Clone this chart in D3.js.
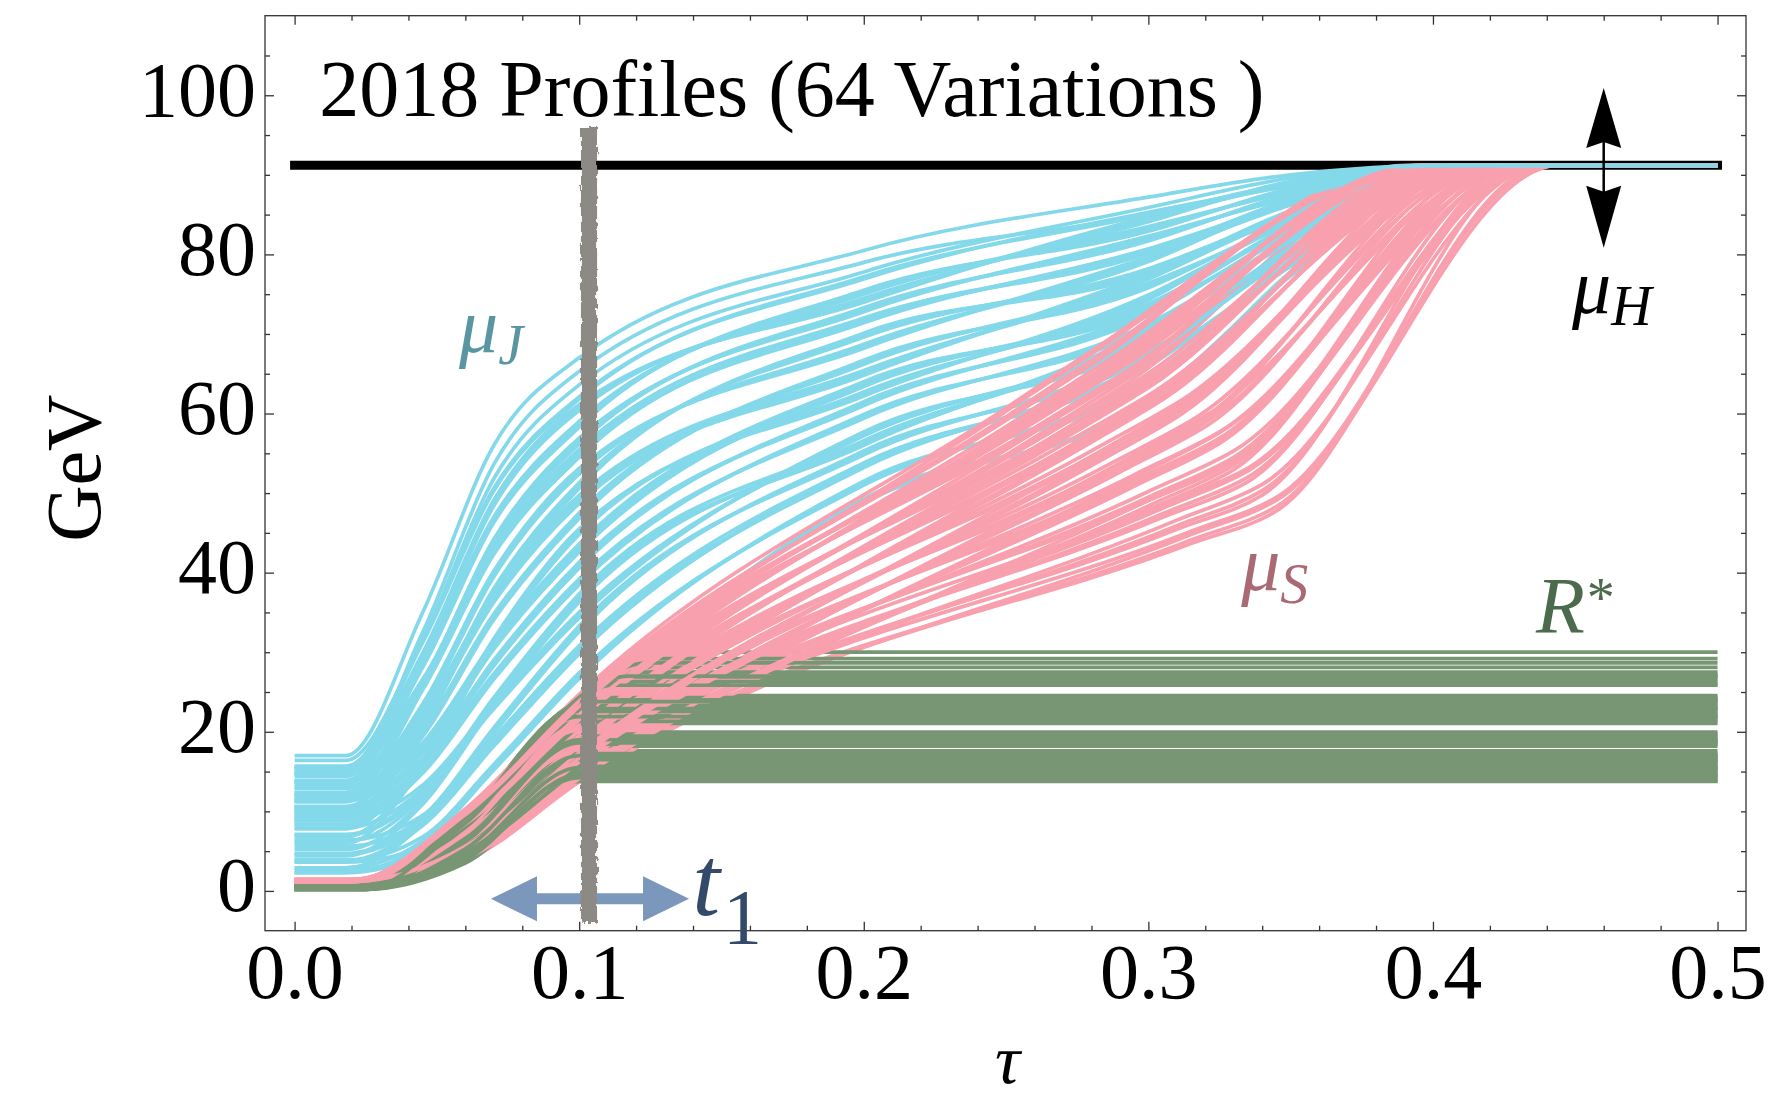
<!DOCTYPE html>
<html>
<head>
<meta charset="utf-8">
<script src="https://cdn.jsdelivr.net/npm/d3@7"></script>
<style>
  html, body { margin: 0; padding: 0; background: #fff; }
  svg { display: block; }
  text { font-family: "Liberation Serif", "Times New Roman", Times, serif; }
</style>
</head>
<body>
<svg id="chart" width="1777" height="1099"></svg>
<script>
// ------------------------------------------------------------------
// Data: 2018 thrust profile functions, 64 parameter variations
// ------------------------------------------------------------------
const MU_H = 91.19;                       // hard scale (GeV)
const X_TICKS = [0, 0.1, 0.2, 0.3, 0.4, 0.5];
const X_MINOR = [0.02, 0.04, 0.06, 0.08, 0.12, 0.14, 0.16, 0.18, 0.22, 0.24, 0.26, 0.28,
                 0.32, 0.34, 0.36, 0.38, 0.42, 0.44, 0.46, 0.48];
const Y_TICKS = [0, 20, 40, 60, 80, 100];
const Y_MINOR = [5, 10, 15, 25, 30, 35, 45, 50, 55, 65, 70, 75, 85, 90, 95, 105];

// t1 transition-point variations (vertical band) and its vertical extent in GeV
const T1_VALUES = [0.1014, 0.1019, 0.1024, 0.1029, 0.1033, 0.1037, 0.1041, 0.1045, 0.1050, 0.1055];
const T1_SPAN = [-4, 96];

// μJ: GeV at τ = 0.018 (flat from τ = 0), 0.045, 0.07, 0.1, 0.2, 0.3, 0.35; joins μH at τ = 0.405
const MUJ_TAU = [0.018, 0.045, 0.07, 0.1, 0.2, 0.3, 0.35];
const MUJ_MERGE = 0.405;
const MUJ_ROWS = [
  [2.6, 5.1, 12.9, 23.2, 49.0, 61.4, 77.5], [3.6, 5.6, 13.3, 23.6, 48.8, 61.7, 77.3], [2.3, 4.7, 12.6, 22.9, 49.3, 61.1, 77.8],
  [2.9, 6.3, 15.5, 27.0, 51.2, 64.2, 79.0], [3.9, 6.8, 15.9, 27.4, 51.0, 64.5, 78.8], [2.3, 5.9, 15.2, 26.7, 51.5, 63.9, 79.3],
  [4.6, 8.6, 18.5, 30.1, 53.4, 66.2, 78.7], [5.6, 9.1, 18.9, 30.5, 53.2, 66.5, 78.5], [3.8, 8.2, 18.2, 29.8, 53.7, 65.9, 79.0],
  [6.4, 9.5, 19.2, 30.8, 53.8, 66.0, 78.7],
  [3.7, 8.8, 20.1, 32.9, 55.0, 67.4, 80.0], [4.7, 9.3, 20.5, 33.3, 54.8, 67.7, 79.8], [2.9, 8.4, 19.8, 32.6, 55.3, 67.1, 80.3],
  [7.9, 12.8, 23.2, 34.6, 57.4, 69.0, 80.6], [8.9, 13.3, 23.6, 35.0, 57.2, 69.3, 80.4], [7.1, 12.4, 22.9, 34.3, 57.7, 68.7, 80.9],
  [5.2, 11.3, 23.6, 36.6, 56.2, 70.2, 81.8], [6.2, 11.8, 24.0, 37.0, 56.0, 70.5, 81.6], [4.4, 10.9, 23.3, 36.3, 56.5, 69.9, 82.1],
  [7.0, 12.2, 24.3, 37.3, 56.6, 70.0, 81.8],
  [9.1, 15.2, 26.9, 38.8, 59.6, 71.0, 81.8], [10.1, 15.7, 27.3, 39.2, 59.4, 71.3, 81.6], [8.3, 14.8, 26.6, 38.5, 59.9, 70.7, 82.1],
  [9.2, 16.1, 28.6, 40.9, 61.2, 72.6, 82.6], [10.2, 16.6, 29.0, 41.3, 61.0, 72.9, 82.4], [8.4, 15.7, 28.3, 40.6, 61.5, 72.3, 82.9],
  [10.3, 17.7, 30.7, 42.9, 63.6, 73.5, 83.4], [11.3, 18.2, 31.1, 43.3, 63.4, 73.8, 83.2], [9.5, 17.3, 30.4, 42.6, 63.9, 73.2, 83.7],
  [12.1, 18.6, 31.4, 43.6, 64.0, 73.3, 83.4],
  [6.8, 16.0, 31.3, 45.1, 62.4, 74.6, 84.2], [7.8, 16.5, 31.7, 45.5, 62.2, 74.9, 84.0], [6.0, 15.6, 31.0, 44.8, 62.7, 74.3, 84.5],
  [10.6, 19.8, 34.4, 47.1, 66.4, 76.1, 84.0], [11.6, 20.3, 34.8, 47.5, 66.2, 76.4, 83.8], [9.8, 19.4, 34.1, 46.8, 66.7, 75.8, 84.3],
  [12.0, 21.7, 36.6, 49.0, 65.0, 77.2, 85.0], [13.0, 22.2, 37.0, 49.4, 64.8, 77.5, 84.8], [11.2, 21.3, 36.3, 48.7, 65.3, 76.9, 85.3],
  [13.8, 22.6, 37.3, 49.7, 65.4, 77.0, 85.0],
  [9.6, 20.8, 37.6, 50.9, 69.8, 77.9, 85.2], [10.6, 21.3, 38.0, 51.3, 69.6, 78.2, 85.0], [8.8, 20.4, 37.3, 50.6, 70.1, 77.6, 85.5],
  [11.3, 23.0, 39.8, 52.7, 68.4, 79.4, 86.4], [12.3, 23.5, 40.2, 53.1, 68.2, 79.7, 86.2], [10.5, 22.6, 39.5, 52.4, 68.7, 79.1, 86.7],
  [13.7, 25.7, 42.6, 54.8, 71.6, 80.4, 86.6], [14.7, 26.2, 43.0, 55.2, 71.4, 80.7, 86.4], [12.9, 25.3, 42.3, 54.5, 71.9, 80.1, 86.9],
  [15.5, 26.6, 43.3, 55.5, 72.0, 80.2, 86.6],
  [12.4, 25.7, 43.8, 56.5, 73.0, 82.0, 87.3], [13.4, 26.2, 44.2, 56.9, 72.8, 82.3, 87.1], [11.6, 25.3, 43.5, 56.2, 73.3, 81.7, 87.6],
  [14.7, 28.5, 46.6, 58.6, 75.2, 83.2, 88.0], [15.7, 29.0, 47.0, 59.0, 75.0, 83.5, 87.8], [13.9, 28.1, 46.3, 58.3, 75.5, 82.9, 88.3],
  [14.4, 29.4, 48.7, 60.7, 74.2, 84.4, 88.9], [15.4, 29.9, 49.1, 61.1, 74.0, 84.7, 88.7], [13.6, 29.0, 48.4, 60.4, 74.5, 84.1, 89.2],
  [16.4, 31.6, 50.6, 62.1, 76.9, 85.3, 88.6], [15.6, 31.2, 50.3, 61.8, 77.2, 85.0, 88.9],
  [15.0, 31.6, 51.8, 63.6, 77.8, 85.9, 89.6],
  [14.8, 32.5, 53.6, 65.3, 79.0, 85.0, 89.0],
  [17.0, 35.0, 56.0, 67.0, 80.5, 87.2, 90.0]
];

// μS: [μ0 (flat to τ = 0.02), μ at 0.06, μ at 0.1, τA, μ(τA), t2, μ(t2), t3 where μS reaches μH]
const MUS_ROWS = [
  [1.2, 4.0, 14.0, 0.315, 44.1, 0.345, 48.3, 0.44], [1.3, 3.9, 13.7, 0.315, 44.8, 0.345, 49.1, 0.444],
  [1.1, 4.1, 14.35, 0.315, 43.65, 0.345, 47.75, 0.436], [1.25, 4.2, 14.7, 0.315, 45.2, 0.345, 49.45, 0.442],
  [1.3, 7.0, 19.5, 0.28, 54.6, 0.31, 60.5, 0.415], [1.4, 6.9, 19.2, 0.28, 55.3, 0.31, 61.3, 0.419],
  [1.2, 7.1, 19.85, 0.28, 54.15, 0.31, 59.95, 0.411],
  [1.3, 4.6, 15.2, 0.295, 51.3, 0.325, 56.8, 0.43], [1.4, 4.5, 14.9, 0.295, 52.0, 0.325, 57.6, 0.434],
  [1.2, 4.7, 15.55, 0.295, 50.85, 0.325, 56.25, 0.426],
  [1.25, 7.9, 21.0, 0.26, 57.0, 0.29, 63.75, 0.405], [1.35, 7.8, 20.7, 0.26, 57.7, 0.29, 64.55, 0.409],
  [1.15, 8.0, 21.35, 0.26, 56.55, 0.29, 63.2, 0.401],
  [1.2, 4.8, 15.6, 0.305, 47.4, 0.335, 52.0, 0.435], [1.3, 4.7, 15.3, 0.305, 48.1, 0.335, 52.8, 0.439],
  [1.1, 4.9, 15.95, 0.305, 46.95, 0.335, 51.45, 0.431], [1.25, 5.0, 16.3, 0.305, 48.5, 0.335, 53.15, 0.437],
  [1.35, 7.7, 20.5, 0.27, 55.4, 0.30, 61.5, 0.41], [1.45, 7.6, 20.2, 0.27, 56.1, 0.30, 62.3, 0.414],
  [1.25, 7.8, 20.85, 0.27, 54.95, 0.30, 60.95, 0.406],
  [1.35, 5.1, 16.0, 0.29, 53.1, 0.32, 58.9, 0.425], [1.45, 5.0, 15.7, 0.29, 53.8, 0.32, 59.7, 0.429],
  [1.25, 5.2, 16.35, 0.29, 52.65, 0.32, 58.35, 0.421],
  [1.4, 8.9, 22.3, 0.255, 58.3, 0.285, 65.2, 0.40], [1.45, 8.8, 22.0, 0.255, 59.0, 0.285, 66.0, 0.404],
  [1.3, 9.0, 22.65, 0.255, 57.85, 0.285, 64.65, 0.396],
  [1.3, 4.5, 14.8, 0.31, 45.9, 0.34, 50.3, 0.435], [1.4, 4.4, 14.5, 0.31, 46.6, 0.34, 51.1, 0.439],
  [1.2, 4.6, 15.15, 0.31, 45.45, 0.34, 49.75, 0.431],
  [1.2, 6.1, 18.2, 0.275, 55.8, 0.305, 62.3, 0.415], [1.3, 6.0, 17.9, 0.275, 56.5, 0.305, 63.1, 0.419],
  [1.1, 6.2, 18.55, 0.275, 55.35, 0.305, 61.75, 0.411],
  [1.2, 5.8, 17.5, 0.295, 51.6, 0.325, 56.9, 0.425], [1.3, 5.7, 17.2, 0.295, 52.3, 0.325, 57.7, 0.429],
  [1.1, 5.9, 17.85, 0.295, 51.15, 0.325, 56.35, 0.421],
  [1.2, 9.3, 23.0, 0.26, 58.2, 0.29, 64.8, 0.40], [1.3, 9.2, 22.7, 0.26, 58.9, 0.29, 65.6, 0.404],
  [1.1, 9.4, 23.35, 0.26, 57.75, 0.29, 64.25, 0.396], [1.25, 9.5, 23.7, 0.26, 59.3, 0.29, 65.95, 0.402],
  [1.25, 4.2, 14.4, 0.30, 48.4, 0.33, 53.5, 0.43], [1.35, 4.1, 14.1, 0.30, 49.1, 0.33, 54.3, 0.434],
  [1.15, 4.3, 14.75, 0.30, 47.95, 0.33, 52.95, 0.426],
  [1.2, 7.1, 19.8, 0.27, 57.2, 0.30, 63.8, 0.41], [1.3, 7.0, 19.5, 0.27, 57.9, 0.30, 64.6, 0.414],
  [1.1, 7.2, 20.15, 0.27, 56.75, 0.30, 63.25, 0.406],
  [1.2, 6.3, 18.5, 0.285, 52.7, 0.315, 58.3, 0.42], [1.3, 6.2, 18.2, 0.285, 53.4, 0.315, 59.1, 0.424],
  [1.1, 6.4, 18.85, 0.285, 52.25, 0.315, 57.75, 0.416],
  [1.25, 10.1, 24.0, 0.25, 59.6, 0.28, 66.7, 0.395], [1.35, 10.0, 23.7, 0.25, 60.3, 0.28, 67.5, 0.399],
  [1.15, 10.2, 24.35, 0.25, 59.15, 0.28, 66.15, 0.391], [1.3, 10.3, 24.7, 0.25, 60.7, 0.28, 67.85, 0.397],
  [1.2, 5.2, 16.5, 0.30, 49.5, 0.33, 54.5, 0.43], [1.3, 5.1, 16.2, 0.30, 50.2, 0.33, 55.3, 0.434],
  [1.1, 5.3, 16.85, 0.30, 49.05, 0.33, 53.95, 0.426],
  [1.3, 8.5, 21.8, 0.265, 56.8, 0.295, 63.1, 0.405], [1.4, 8.4, 21.5, 0.265, 57.5, 0.295, 63.9, 0.409],
  [1.2, 8.6, 22.15, 0.265, 56.35, 0.295, 62.55, 0.401],
  [1.25, 5.5, 17.0, 0.28, 53.9, 0.31, 60.1, 0.42], [1.35, 5.4, 16.7, 0.28, 54.6, 0.31, 60.9, 0.424],
  [1.15, 5.6, 17.35, 0.28, 53.45, 0.31, 59.55, 0.416],
  [1.2, 9.7, 23.5, 0.255, 58.8, 0.285, 65.7, 0.40], [1.3, 9.6, 23.2, 0.255, 59.5, 0.285, 66.5, 0.404],
  [1.1, 9.8, 23.85, 0.255, 58.35, 0.285, 65.15, 0.396]
];

// R*: [R0 (flat to τ = 0.025), R at 0.06, τ where the plateau starts, plateau value]
const RSTAR_ROWS = [
  [0.5, 5.6, 0.1, 17.6], [0.3, 9.2, 0.106, 24.55], [0.7, 9.6, 0.129, 30.0], [0.4, 7.1, 0.1, 19.95],
  [0.6, 4.0, 0.1, 14.05], [0.2, 8.6, 0.1, 22.3], [0.8, 9.4, 0.115, 26.6], [0.5, 4.8, 0.1, 15.85],
  [0.35, 6.3, 0.1, 18.7], [0.65, 9.1, 0.102, 23.55], [0.5, 5.1, 0.1, 16.45], [0.3, 9.5, 0.121, 28.1],
  [0.7, 8.1, 0.1, 21.05], [0.4, 3.7, 0.1, 13.8], [0.6, 6.8, 0.1, 19.2], [0.2, 5.1, 0.1, 16.85],
  [0.8, 9.0, 0.104, 24.05], [0.5, 9.3, 0.118, 27.2], [0.35, 4.4, 0.1, 15.25], [0.65, 9.3, 0.1, 22.8],
  [0.5, 6.1, 0.1, 18.2], [0.3, 3.9, 0.1, 14.45], [0.7, 9.7, 0.126, 29.2], [0.4, 8.2, 0.1, 21.55],
  [0.6, 5.5, 0.1, 17.05], [0.2, 6.8, 0.1, 19.7], [0.8, 4.8, 0.1, 15.45], [0.5, 9.4, 0.1, 23.05],
  [0.35, 9.2, 0.113, 26.0], [0.65, 4.4, 0.1, 14.85], [0.5, 8.4, 0.1, 21.8], [0.3, 6.4, 0.1, 18.95],
  [0.7, 5.1, 0.1, 16.25], [0.4, 9.3, 0.105, 24.3], [0.6, 9.5, 0.119, 27.5], [0.2, 3.5, 0.1, 13.75],
  [0.8, 8.8, 0.1, 22.05], [0.5, 6.2, 0.1, 18.45], [0.35, 4.8, 0.1, 16.05], [0.65, 9.6, 0.124, 28.65],
  [0.5, 9.2, 0.101, 23.3], [0.3, 4.2, 0.1, 15.05], [0.7, 7.0, 0.1, 19.45], [0.4, 8.0, 0.1, 21.3],
  [0.6, 5.6, 0.1, 17.25], [0.2, 9.1, 0.114, 26.3], [0.8, 4.2, 0.1, 14.25], [0.5, 9.0, 0.1, 22.55],
  [0.35, 6.2, 0.1, 18.6], [0.65, 5.3, 0.1, 16.65], [0.5, 9.0, 0.104, 24.0], [0.3, 9.4, 0.116, 26.9],
  [0.7, 4.8, 0.1, 15.65], [0.4, 9.2, 0.1, 22.9], [0.6, 6.6, 0.1, 19.0], [0.2, 3.9, 0.1, 14.65],
  [0.8, 9.2, 0.112, 25.85], [0.5, 8.5, 0.1, 21.9], [0.35, 5.0, 0.1, 16.5], [0.65, 9.3, 0.117, 27.0],
  [0.5, 4.6, 0.1, 15.5], [0.3, 9.1, 0.103, 23.8], [0.7, 4.3, 0.1, 14.6], [0.4, 5.3, 0.1, 17.0]
];

// ------------------------------------------------------------------
// Layout and scales
// ------------------------------------------------------------------
const PLOT = { left: 265, right: 1746, top: 15.7, bottom: 930.7 };
const x = d3.scaleLinear().domain([-0.0104, 0.51]).range([PLOT.left, PLOT.right]);
const y = d3.scaleLinear().domain([-5, 110]).range([PLOT.bottom, PLOT.top]);

const COLORS = {
  muJ: "#83d9ea", muS: "#f9a0af", rstar: "#789674", band: "#8d8a85",
  arrow: "#7b97bc", t1: "#344a6b", labelJ: "#5a95a2", labelS: "#a96a73", labelR: "#4c6a4c",
  frame: "#333"
};
const LINE_W = 3.7;
const FONT = 78;

const svg = d3.select("#chart");
svg.append("rect").attr("width", 1777).attr("height", 1099).attr("fill", "#fff");

// rough edge for the t1 band
const defs = svg.append("defs");
const rough = defs.append("filter").attr("id", "rough")
  .attr("x", "-80%").attr("y", "-3%").attr("width", "260%").attr("height", "106%");
rough.append("feTurbulence").attr("type", "fractalNoise").attr("baseFrequency", "0.35 0.12")
  .attr("numOctaves", 2).attr("seed", 7).attr("result", "noise");
rough.append("feDisplacementMap").attr("in", "SourceGraphic").attr("in2", "noise")
  .attr("scale", 6).attr("xChannelSelector", "R").attr("yChannelSelector", "G");

// ------------------------------------------------------------------
// Profile curves
// ------------------------------------------------------------------
const line = d3.line().x(d => x(d[0])).y(d => y(d[1])).curve(d3.curveMonotoneX);

const variations = MUJ_ROWS.map((rj, i) => {
  const rs = MUS_ROWS[i], rr = RSTAR_ROWS[i];
  const j = [[0, rj[0]]].concat(MUJ_TAU.map((t, k) => [t, rj[k]]), [[MUJ_MERGE, MU_H], [0.5, MU_H]]);
  const s = [[0, rs[0]], [0.02, rs[0]], [0.06, rs[1]], [0.1, rs[2]], [rs[3], rs[4]],
             [rs[5], rs[6]], [rs[7], MU_H], [0.5, MU_H]];
  const r = [[0, rr[0]], [0.025, rr[0]], [0.06, rr[1]], [rr[2], rr[3]], [0.5, rr[3]]];
  return { j, s, r };
});

// hard scale μH
svg.append("line")
  .attr("x1", x(0)).attr("x2", x(0.5)).attr("y1", y(MU_H)).attr("y2", y(MU_H))
  .attr("stroke", "#000").attr("stroke-width", 9).attr("stroke-linecap", "square");

const curves = svg.append("g").attr("fill", "none").attr("stroke-width", LINE_W)
  .attr("stroke-linejoin", "round");
const vg = curves.selectAll("g.variation").data(variations).join("g").attr("class", "variation");
vg.append("path").attr("d", d => line(d.s)).attr("stroke", COLORS.muS);
vg.append("path").attr("d", d => line(d.r)).attr("stroke", COLORS.rstar);
vg.append("path").attr("d", d => line(d.j)).attr("stroke", COLORS.muJ);

// ------------------------------------------------------------------
// Annotations: t1 arrow, t1 band, μH variation arrow
// ------------------------------------------------------------------
{
  const x0 = x(0.069), x1 = x(0.1386), yc = y(-1.0);
  const hl = 46, hh = 22.5, sh = 5.5;
  const p = d3.path();
  p.moveTo(x0, yc);
  p.lineTo(x0 + hl, yc - hh); p.lineTo(x0 + hl, yc - sh);
  p.lineTo(x1 - hl, yc - sh); p.lineTo(x1 - hl, yc - hh);
  p.lineTo(x1, yc);
  p.lineTo(x1 - hl, yc + hh); p.lineTo(x1 - hl, yc + sh);
  p.lineTo(x0 + hl, yc + sh); p.lineTo(x0 + hl, yc + hh);
  p.closePath();
  svg.append("path").attr("d", p.toString()).attr("fill", COLORS.arrow);
}

svg.append("g").attr("filter", "url(#rough)")
  .selectAll("line").data(T1_VALUES).join("line")
  .attr("x1", d => x(d)).attr("x2", d => x(d))
  .attr("y1", y(T1_SPAN[0])).attr("y2", y(T1_SPAN[1]))
  .attr("stroke", COLORS.band).attr("stroke-width", 4.5);

{
  const vx = x(0.46), yt = y(100.9), yb = y(80.85);
  const hw = 17.5;
  const p = d3.path();
  p.moveTo(vx, yt); p.lineTo(vx + hw, yt + 60); p.lineTo(vx, yt + 54); p.lineTo(vx - hw, yt + 60); p.closePath();
  p.moveTo(vx, yb); p.lineTo(vx + hw, yb - 62); p.lineTo(vx, yb - 56); p.lineTo(vx - hw, yb - 62); p.closePath();
  svg.append("path").attr("d", p.toString()).attr("fill", "#000");
  svg.append("line").attr("x1", vx).attr("x2", vx).attr("y1", yt + 50).attr("y2", yb - 50)
    .attr("stroke", "#000").attr("stroke-width", 2.5);
}

// ------------------------------------------------------------------
// Frame, ticks and tick labels
// ------------------------------------------------------------------
svg.append("rect")
  .attr("x", PLOT.left).attr("y", PLOT.top)
  .attr("width", PLOT.right - PLOT.left).attr("height", PLOT.bottom - PLOT.top)
  .attr("fill", "none").attr("stroke", COLORS.frame).attr("stroke-width", 1.3);

function tickLayer(axis, tx, ty) {
  const g = svg.append("g").attr("transform", `translate(${tx},${ty})`).call(axis);
  g.select(".domain").remove();
  g.selectAll(".tick line").attr("stroke", COLORS.frame).attr("stroke-width", 1.3);
  g.attr("font-family", null).attr("font-size", null);
  return g;
}

// bottom / top
const xb = tickLayer(d3.axisBottom(x).tickValues(X_TICKS).tickFormat(d3.format(".1f")).tickSize(-9), 0, PLOT.bottom);
xb.selectAll("text").attr("y", 67).attr("dy", null).attr("font-size", FONT).attr("fill", "#000");
tickLayer(d3.axisBottom(x).tickValues(X_MINOR).tickFormat("").tickSize(-5), 0, PLOT.bottom);
tickLayer(d3.axisTop(x).tickValues(X_TICKS).tickFormat("").tickSize(-9), 0, PLOT.top);
tickLayer(d3.axisTop(x).tickValues(X_MINOR).tickFormat("").tickSize(-5), 0, PLOT.top);

// left / right
const yl = tickLayer(d3.axisLeft(y).tickValues(Y_TICKS).tickFormat(d3.format("d")).tickSize(-9), PLOT.left, 0);
yl.selectAll("text").attr("x", -9).attr("y", 20).attr("dy", null).attr("font-size", FONT).attr("fill", "#000");
tickLayer(d3.axisLeft(y).tickValues(Y_MINOR).tickFormat("").tickSize(-5), PLOT.left, 0);
tickLayer(d3.axisRight(y).tickValues(Y_TICKS).tickFormat("").tickSize(-9), PLOT.right, 0);
tickLayer(d3.axisRight(y).tickValues(Y_MINOR).tickFormat("").tickSize(-5), PLOT.right, 0);

// ------------------------------------------------------------------
// Text labels
// ------------------------------------------------------------------
svg.append("text").attr("x", x(0.0087)).attr("y", y(97.4)).attr("font-size", 80)
  .text("2018 Profiles (64 Variations )");

svg.append("text")
  .attr("transform", `translate(100,${(PLOT.top + PLOT.bottom) / 2 - 5})rotate(-90)`)
  .attr("text-anchor", "middle").attr("font-size", FONT).text("GeV");

svg.append("text").attr("x", (PLOT.left + PLOT.right) / 2 + 2).attr("y", 1083)
  .attr("text-anchor", "middle").attr("font-size", 70).attr("font-style", "italic").text("τ");

function subLabel(tx, ty, color, main, sub, mainSize, subSize, dy) {
  const t = svg.append("text").attr("x", x(tx)).attr("y", y(ty)).attr("fill", color)
    .attr("font-size", mainSize).attr("font-style", "italic");
  t.append("tspan").text(main);
  t.append("tspan").attr("font-size", subSize).attr("dy", dy).text(sub);
  return t;
}
subLabel(0.0578, 67.7, COLORS.labelJ, "μ", "J", 78, 56, 12);
subLabel(0.3326, 37.8, COLORS.labelS, "μ", "S", 78, 56, 13);
subLabel(0.4489, 72.6, "#000", "μ", "H", 78, 56, 12);

{
  const t = svg.append("text").attr("x", x(0.4362)).attr("y", y(32.4))
    .attr("fill", COLORS.labelR).attr("font-size", 80);
  t.append("tspan").attr("font-style", "italic").text("R");
  t.append("tspan").attr("font-size", 56).attr("dy", -16).attr("dx", 2).text("*");
}
{
  const t = svg.append("text").attr("x", x(0.1397)).attr("y", y(-3.0))
    .attr("fill", COLORS.t1).attr("font-size", 100);
  t.append("tspan").attr("font-style", "italic").text("t");
  t.append("tspan").attr("font-size", 78).attr("dy", 28).attr("dx", 3).text("1");
}
</script>
</body>
</html>
